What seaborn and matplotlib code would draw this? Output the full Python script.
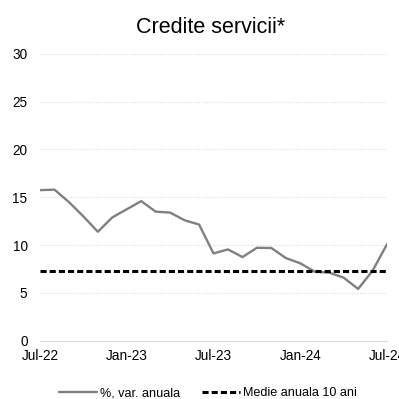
import matplotlib
matplotlib.use("Agg")
import matplotlib.pyplot as plt
import seaborn as sns
import pandas as pd
import numpy as np

months = ["Jul-22","Aug-22","Sep-22","Oct-22","Nov-22","Dec-22","Jan-23","Feb-23","Mar-23",
          "Apr-23","May-23","Jun-23","Jul-23","Aug-23","Sep-23","Oct-23","Nov-23","Dec-23",
          "Jan-24","Feb-24","Mar-24","Apr-24","May-24","Jun-24","Jul-24"]
var_anuala = [15.75, 15.8, 14.5, 13.0, 11.4, 12.9, 13.75, 14.6, 13.5, 13.4, 12.6, 12.15,
              9.13, 9.55, 8.75, 9.72, 9.7, 8.65, 8.1, 7.22, 7.12, 6.6, 5.42, 7.32, 10.1]
medie_10ani = 7.32
tick_labels = ["Jul-22", "Jan-23", "Jul-23", "Jan-24", "Jul-24"]

df = pd.DataFrame({"idx": np.arange(len(months)), "month": months, "val": var_anuala})

sns.set_theme(style="white")
plt.rcParams["font.family"] = ["Liberation Sans", "DejaVu Sans"]

fig = plt.figure(figsize=(3.99, 3.99), dpi=100)
ax = fig.add_axes([0.1003, 0.146, 0.8697, 0.719])

sns.lineplot(data=df, x="idx", y="val", ax=ax, color="#808080", linewidth=1.7,
             label="%, var. anuala")
ax.axhline(medie_10ani, color="black", linestyle=(0, (2.0, 1.0)), linewidth=2.2,
           label="Medie anuala 10 ani")

ax.set_xlim(0, len(months) - 1)
ax.set_ylim(0, 30)
ax.set_yticks([0, 5, 10, 15, 20, 25, 30])
tick_pos = [months.index(t) for t in tick_labels]
ax.set_xticks(tick_pos)
ax.set_xticklabels(tick_labels)
ax.set_xlabel("")
ax.set_ylabel("")
ax.yaxis.grid(True, linestyle=(0, (1, 1.5)), color="#d9d9d9", linewidth=0.8)
ax.xaxis.grid(False)
for s in ["top", "right", "left"]:
    ax.spines[s].set_visible(False)
ax.spines["bottom"].set_color("#d9d9d9")
ax.spines["bottom"].set_linewidth(0.8)
ax.tick_params(axis="x", which="both", length=3, width=0.8, color="#d9d9d9", direction="out",
               labelsize=9.8, labelcolor="black", pad=3)
ax.tick_params(axis="y", length=0, labelsize=9.8, labelcolor="black", pad=9)
for lab in ax.get_yticklabels():
    lab.set_horizontalalignment("right")

fig.text(0.527, 0.932, "Credite servicii*", ha="center", va="center", fontsize=15.5,
         color="black")

leg = ax.legend(loc="center", bbox_to_anchor=(0.484, -0.183), ncol=2, frameon=False,
                fontsize=9.1, handlelength=3.0, columnspacing=1.8, handletextpad=0.2)
for t in leg.get_texts():
    t.set_color("black")

fig.savefig("out.png", dpi=100, facecolor="white")
